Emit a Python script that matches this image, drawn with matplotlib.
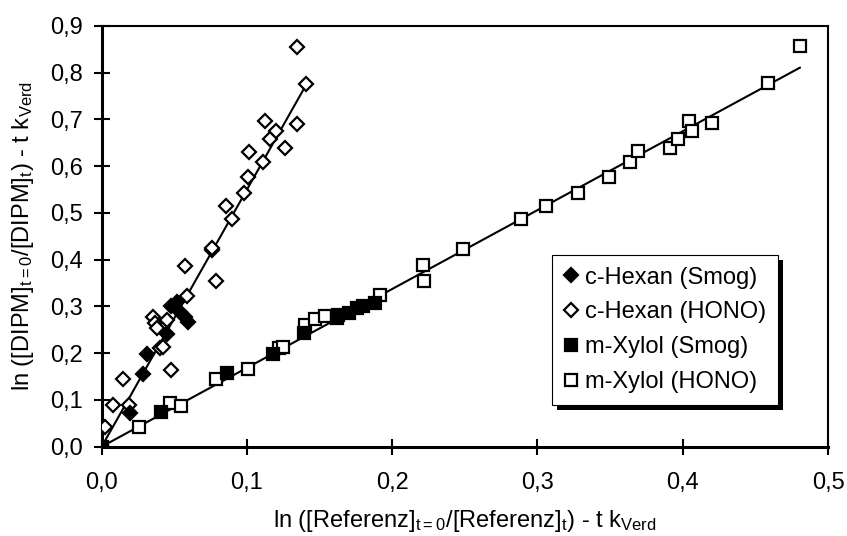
import matplotlib
matplotlib.use("Agg")
import matplotlib.pyplot as plt
from matplotlib.patches import Rectangle
import numpy as np

plt.rcParams['font.family'] = ['Liberation Sans', 'DejaVu Sans']
plt.rcParams['mathtext.fontset'] = 'custom'
plt.rcParams['mathtext.rm'] = 'Liberation Sans'
plt.rcParams['mathtext.default'] = 'regular'

# ---- data ----
hex_smog_x = [0.0, 0.0195, 0.0287, 0.0315, 0.0448, 0.048, 0.0517, 0.054, 0.0574, 0.0597]
hex_smog_y = [0.0, 0.073, 0.1555, 0.198, 0.241, 0.301, 0.310, 0.289, 0.277, 0.2675]

hex_hono_x = [0.0023, 0.0076, 0.015, 0.019, 0.0356, 0.0367, 0.038, 0.040, 0.0425, 0.048,
              0.045, 0.0574, 0.059, 0.0758, 0.079, 0.0758, 0.090, 0.0856, 0.098, 0.101,
              0.111, 0.1017, 0.126, 0.116, 0.120, 0.1343, 0.1125, 0.1407, 0.1343]
hex_hono_y = [0.043, 0.089, 0.144, 0.089, 0.277, 0.265, 0.253, 0.2105, 0.213, 0.164,
              0.270, 0.387, 0.322, 0.421, 0.355, 0.4245, 0.4865, 0.5157, 0.543, 0.578,
              0.610, 0.631, 0.640, 0.658, 0.675, 0.690, 0.697, 0.7753, 0.8545]

xyl_smog_x = [0.0, 0.041, 0.086, 0.1177, 0.139, 0.162, 0.163, 0.17, 0.1755, 0.18, 0.188]
xyl_smog_y = [0.0, 0.075, 0.157, 0.198, 0.243, 0.275, 0.282, 0.287, 0.296, 0.302, 0.308]

xyl_hono_x = [0.026, 0.047, 0.0544, 0.079, 0.101, 0.1223, 0.125, 0.140, 0.147, 0.154,
              0.1916, 0.2214, 0.2221, 0.2485, 0.289, 0.306, 0.328, 0.349, 0.364, 0.369,
              0.391, 0.397, 0.4043, 0.4061, 0.4203, 0.4589, 0.4806]
xyl_hono_y = [0.0415, 0.093, 0.087, 0.145, 0.1655, 0.2105, 0.214, 0.260, 0.2725, 0.2796,
              0.3245, 0.389, 0.3545, 0.422, 0.487, 0.515, 0.543, 0.578, 0.610, 0.633,
              0.638, 0.658, 0.6975, 0.675, 0.692, 0.7775, 0.8566]

hex_slope = 5.5
xyl_slope = 1.687

x_ticks = [0.0, 0.1, 0.2, 0.3, 0.4, 0.5]
y_ticks = [0.0, 0.1, 0.2, 0.3, 0.4, 0.5, 0.6, 0.7, 0.8, 0.9]

labels = ['c-Hexan (Smog)', 'c-Hexan (HONO)', 'm-Xylol (Smog)', 'm-Xylol (HONO)']

# ---- figure ----
fig = plt.figure(figsize=(8.47, 5.36), dpi=100)
ax = fig.add_axes([0.12, 0.1666, 0.8576, 0.7849])

fs = 17

# fit lines
hx = np.array([0.0, max(hex_hono_x)])
ax.plot(hx, hex_slope * hx, color='black', lw=1.5, zorder=2)
xx = np.array([0.0, max(xyl_hono_x)])
ax.plot(xx, xyl_slope * xx, color='black', lw=1.5, zorder=2)

ms_sq = 9
ms_d = 7
ax.plot(hex_hono_x, hex_hono_y, 'D', ms=ms_d, mfc='white', mec='black', mew=1.6,
        ls='none', label=labels[1], zorder=3)
ax.plot(xyl_hono_x, xyl_hono_y, 's', ms=ms_sq, mfc='white', mec='black', mew=1.6,
        ls='none', label=labels[3], zorder=3)
ax.plot(xyl_smog_x, xyl_smog_y, 's', ms=ms_sq, mfc='black', mec='black', mew=1.6,
        ls='none', label=labels[2], zorder=4)
ax.plot(hex_smog_x, hex_smog_y, 'D', ms=ms_d, mfc='black', mec='black', mew=1.6,
        ls='none', label=labels[0], zorder=4)

ax.set_xlim(0, 0.5)
ax.set_ylim(0, 0.9)
ax.set_xticks(x_ticks)
ax.set_yticks(y_ticks)
ax.set_xticklabels([f"{v:.1f}".replace('.', ',') for v in x_ticks], fontsize=fs)
ax.set_yticklabels([f"{v:.1f}".replace('.', ',') for v in y_ticks], fontsize=fs)
ax.tick_params(direction='inout', length=11, width=1.5, top=False, right=False)
ax.tick_params(axis='x', pad=13)
ax.tick_params(axis='y', pad=8)

for s in ['left', 'bottom']:
    ax.spines[s].set_linewidth(2.2)
for s in ['top', 'right']:
    ax.spines[s].set_linewidth(1.5)

ax.set_xlabel(r"ln ([Referenz]$_{t{=}0}$/[Referenz]$_{t}$) - t k$_{Verd}$", fontsize=fs, labelpad=10)
ax.set_ylabel(r"ln ([DIPM]$_{t{=}0}$/[DIPM]$_{t}$) - t k$_{Verd}$", fontsize=fs, labelpad=10)

handles, labs = ax.get_legend_handles_labels()
order = [labs.index(l) for l in labels]
leg = ax.legend([handles[i] for i in order], [labs[i] for i in order],
                loc='upper left', bbox_to_anchor=(0.620, 0.456), fontsize=fs,
                frameon=True, fancybox=False, edgecolor='black', framealpha=1,
                borderpad=0.5, handlelength=0.6, handletextpad=0.3, labelspacing=0.54,
                borderaxespad=0)
leg.get_frame().set_linewidth(0.8)
leg.set_zorder(10)

fig.canvas.draw()
bb = leg.get_window_extent().transformed(ax.transAxes.inverted())
dx = 5.0 / (ax.bbox.width)
dy = 5.0 / (ax.bbox.height)
shadow = Rectangle((bb.x0 + dx, bb.y0 - dy), bb.width, bb.height, transform=ax.transAxes,
                   facecolor='black', edgecolor='none', zorder=9, clip_on=False)
ax.add_patch(shadow)

fig.savefig('out.png', dpi=100)
